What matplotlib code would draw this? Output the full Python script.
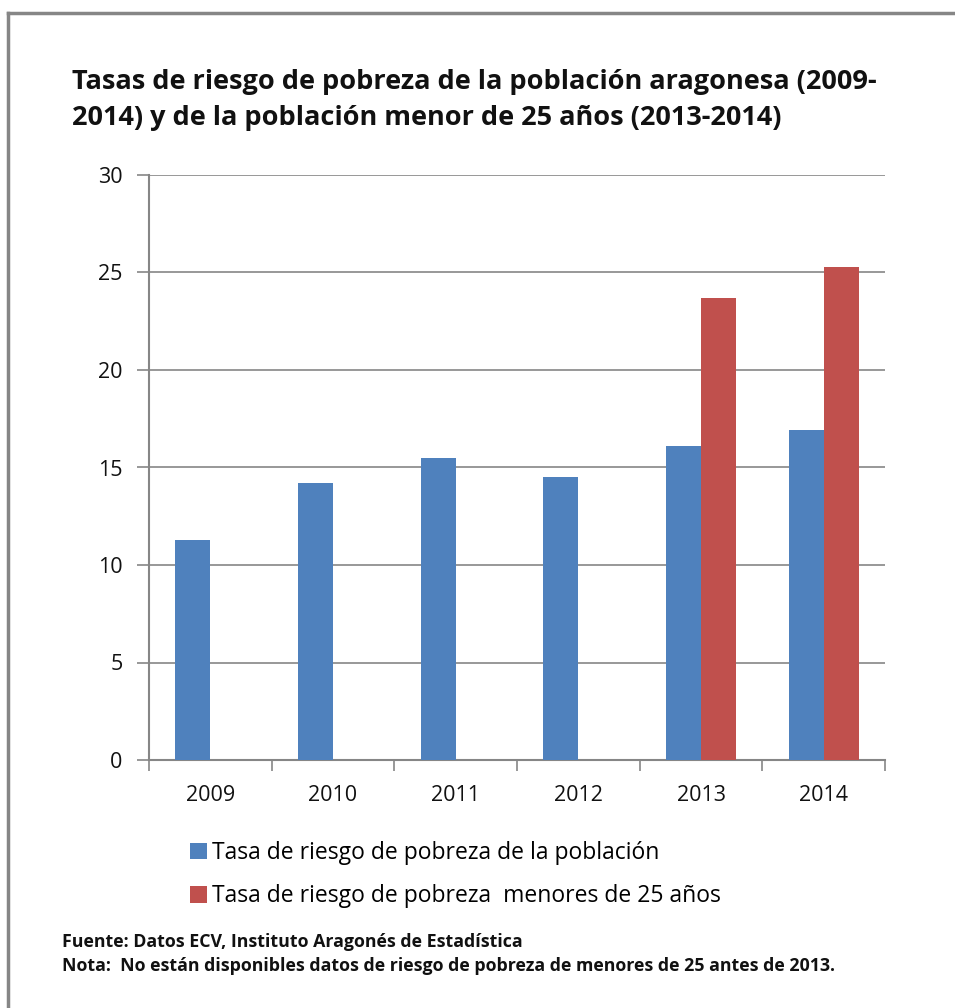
import matplotlib
matplotlib.use("Agg")
import matplotlib.pyplot as plt
import numpy as np
from matplotlib.patches import Patch
from matplotlib.lines import Line2D

years = ["2009", "2010", "2011", "2012", "2013", "2014"]
tasa_total = [11.3, 14.2, 15.5, 14.5, 16.1, 16.9]
tasa_menores = [np.nan, np.nan, np.nan, np.nan, 23.7, 25.3]
yticks = [0, 5, 10, 15, 20, 25, 30]

title_lines = ["Tasas de riesgo de pobreza de la población aragonesa (2009-",
               "2014) y de la población menor de 25 años (2013-2014)"]
legend_labels = ["Tasa de riesgo de pobreza de la población",
                 "Tasa de riesgo de pobreza  menores de 25 años"]
fuente = "Fuente: Datos ECV, Instituto Aragonés de Estadística"
nota = "Nota:  No están disponibles datos de riesgo de pobreza de menores de 25 antes de 2013."

FONT = ["Open Sans", "DejaVu Sans"]
BLUE = "#4F81BD"
RED = "#C0504D"
GRAY = "#868686"
TXT = "#111111"

W, H = 955, 1008
fig = plt.figure(figsize=(W/100, H/100), dpi=100)
fig.patch.set_facecolor("white")

ax = fig.add_axes([149/W, 1-760/H, (885-149)/W, (760-175)/H])
x = np.arange(len(years))
w = 0.285
ax.bar(x - w/2, tasa_total, width=w, color=BLUE, zorder=3)
ax.bar(x + w/2, tasa_menores, width=w, color=RED, zorder=3)

ax.set_xlim(-0.5, len(years) - 0.5)
ax.set_ylim(0, 30)
ax.set_yticks(yticks)
ax.set_yticklabels([str(v) for v in yticks], fontsize=15.5, family=FONT, color=TXT)
ax.set_xticks(x)
ax.set_xticklabels(years, fontsize=15.5, family=FONT, color=TXT)
ax.set_xticks(np.arange(-0.5, len(years)), minor=True)
ax.tick_params(axis="x", which="major", length=0, pad=18)
ax.tick_params(axis="x", which="minor", length=8, color=GRAY, width=1.2)
ax.tick_params(axis="y", length=9, color=GRAY, width=1.2, pad=10)
ax.yaxis.grid(True, color=GRAY, linewidth=1.2, zorder=0)
for s in ["top", "right"]:
    ax.spines[s].set_visible(False)
for s in ["left", "bottom"]:
    ax.spines[s].set_color(GRAY)
    ax.spines[s].set_linewidth(1.5)
ax.set_facecolor("white")

fig.text(72/W, 1-89/H, title_lines[0], fontsize=19.5, fontweight="bold", family=FONT,
         va="baseline", ha="left", color=TXT)
fig.text(72/W, 1-125/H, title_lines[1], fontsize=19.5, fontweight="bold", family=FONT,
         va="baseline", ha="left", color=TXT)

handles = [Patch(facecolor=BLUE), Patch(facecolor=RED)]
fig.legend(handles, legend_labels, loc="upper left",
           bbox_to_anchor=(190/W, 1-841/H), frameon=False, borderpad=0,
           borderaxespad=0, prop={"family": FONT, "size": 16.5}, handlelength=0.75,
           handleheight=0.75, handletextpad=0.2, labelspacing=0.85)

fig.text(62/W, 1-947/H, fuente, fontsize=12.8, fontweight="bold", family=FONT,
         va="baseline", ha="left", color=TXT)
fig.text(62/W, 1-971/H, nota, fontsize=12.8, fontweight="bold", family=FONT,
         va="baseline", ha="left", color=TXT)

fig.add_artist(Line2D([8/W, 8/W], [0, 1-13/H], transform=fig.transFigure,
                      color=GRAY, linewidth=2.5))
fig.add_artist(Line2D([8/W, 1], [1-13/H, 1-13/H], transform=fig.transFigure,
                      color=GRAY, linewidth=2.5))

fig.savefig("out.png", dpi=100, facecolor="white")
